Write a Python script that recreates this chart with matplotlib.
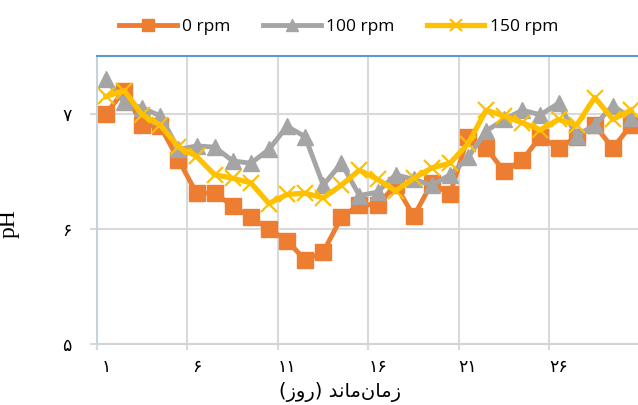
import matplotlib.pyplot as plt
import numpy as np

days = np.arange(1, 31)
ph_0rpm = [7.00, 7.20, 6.90, 6.89, 6.60, 6.31, 6.31, 6.20, 6.10, 6.00,
           5.90, 5.73, 5.80, 6.10, 6.21, 6.21, 6.38, 6.11, 6.40, 6.30,
           6.80, 6.70, 6.50, 6.60, 6.80, 6.70, 6.80, 6.90, 6.70, 6.90]
ph_100rpm = [7.30, 7.10, 7.05, 6.98, 6.69, 6.72, 6.71, 6.59, 6.57, 6.69,
             6.89, 6.80, 6.38, 6.57, 6.29, 6.32, 6.47, 6.43, 6.38, 6.47,
             6.62, 6.85, 6.95, 7.03, 6.99, 7.09, 6.81, 6.90, 7.07, 6.96]
ph_150rpm = [7.15, 7.20, 6.99, 6.90, 6.71, 6.63, 6.47, 6.44, 6.40, 6.22,
             6.30, 6.31, 6.27, 6.38, 6.51, 6.43, 6.33, 6.44, 6.53, 6.57,
             6.74, 7.03, 6.98, 6.92, 6.86, 6.95, 6.90, 7.14, 6.95, 7.03]
labels = ["0 rpm", "100 rpm", "150 rpm"]

x_tick_pos = [1, 6, 11, 16, 21, 26]
x_tick_labels = ["\u06f1", "\u06f6", "\u06f1\u06f1", "\u06f1\u06f6", "\u06f2\u06f1", "\u06f2\u06f6"]
y_tick_pos = [5, 6, 7]
y_tick_labels = ["\u06f5", "\u06f6", "\u06f7"]

# "زمان‌ماند (روز)" written in visual order with presentation forms
xlabel_text = "(\u0632\u0648\u0631) \uFEAA\uFEE7\uFE8E\uFEE3\u0646\uFE8E\uFEE3\u0632"

fig = plt.figure(figsize=(6.38, 4.05), dpi=100)
ax = fig.add_axes([97 / 638, 60.7 / 405, 543 / 638, 288.3 / 405])

ax.plot(days, ph_0rpm, color="#ED7D31", lw=3.5, marker="s", ms=12, label=labels[0])
ax.plot(days, ph_100rpm, color="#A5A5A5", lw=3.5, marker="^", ms=12, label=labels[1])
ax.plot(days, ph_150rpm, color="#FFC000", lw=3.8, marker="x", ms=12, mew=1.6, label=labels[2])

ax.set_xlim(0.5, 30.5)
ax.set_ylim(5, 7.5)

# gridlines on category boundaries, labels centred on categories
ax.set_xticks(np.arange(0.5, 30, 5))
ax.set_xticklabels([])
ax.set_xticks(x_tick_pos, minor=True)
ax.set_xticklabels(x_tick_labels, minor=True, fontsize=12.5, family="DejaVu Sans")
ax.tick_params(axis="x", which="major", length=4, color="#D9D9D9", width=1.5)
ax.tick_params(axis="x", which="minor", length=0, pad=10)

ax.set_yticks(y_tick_pos)
ax.set_yticklabels(y_tick_labels, fontsize=12.5, family="DejaVu Sans")
ax.tick_params(axis="y", length=5, color="#D9D9D9", width=1.5, pad=13)

ax.grid(True, which="major", color="#D9D9D9", lw=1.5)
ax.set_axisbelow(True)

ax.spines["top"].set_color("#5B9BD5")
ax.spines["top"].set_linewidth(1.5)
ax.spines["left"].set_color("#C5D3E0")
ax.spines["left"].set_linewidth(1.5)
ax.spines["bottom"].set_color("#D0D5DB")
ax.spines["bottom"].set_linewidth(1.5)
ax.spines["right"].set_visible(False)

ax.set_ylabel("pH", family="Liberation Serif", fontsize=17)
ax.yaxis.set_label_coords(-77 / 543, 0.42)
ax.set_xlabel(xlabel_text, family="DejaVu Sans", fontsize=14)
ax.xaxis.set_label_coords(0.447, -38 / 288.3)

fig.legend(loc="center", bbox_to_anchor=(0.531, 0.933), ncol=3, frameon=False,
           prop={"family": "Open Sans", "size": 12.5}, handlelength=3.3,
           columnspacing=1.9, handletextpad=0.3, markerscale=0.7)

fig.savefig("out.png", dpi=100)
